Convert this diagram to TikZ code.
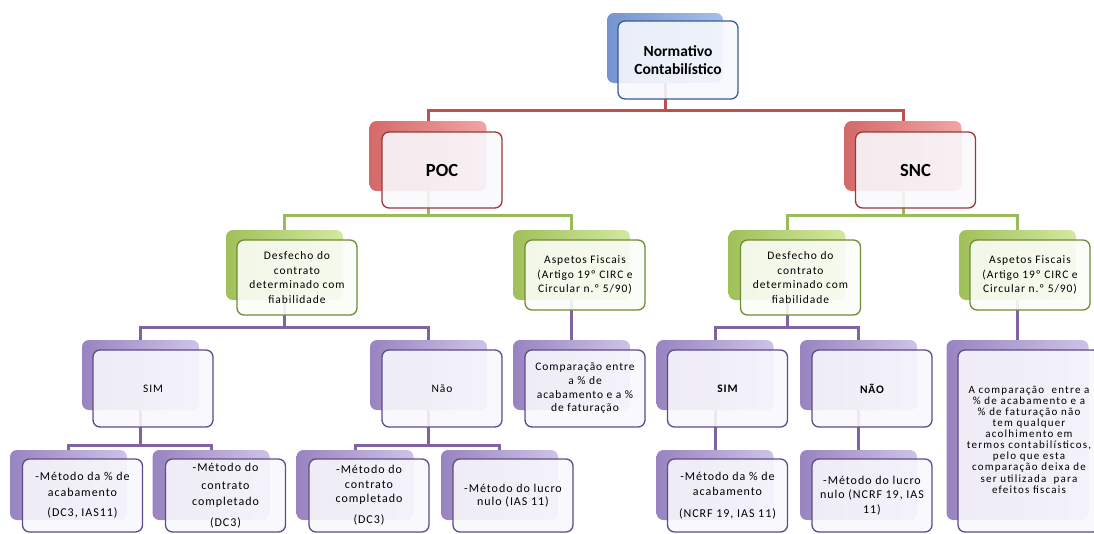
\documentclass[tikz,border=0pt]{standalone}
\usepackage{fontspec}
\setmainfont{Carlito}
\newfontfamily\boxfont{Carlito}[LetterSpace=8]
\newfontfamily\bigfont{Carlito}[LetterSpace=11]
\definecolor{blueL}{RGB}{118,148,208}
\definecolor{blueR}{RGB}{165,190,235}
\definecolor{blueD}{RGB}{60,90,150}
\definecolor{redL}{RGB}{212,105,105}
\definecolor{redR}{RGB}{240,165,165}
\definecolor{redD}{RGB}{155,55,55}
\definecolor{redC}{RGB}{192,80,77}
\definecolor{greenL}{RGB}{160,192,90}
\definecolor{greenR}{RGB}{210,232,160}
\definecolor{greenD}{RGB}{110,140,50}
\definecolor{greenC}{RGB}{155,187,89}
\definecolor{purL}{RGB}{152,132,192}
\definecolor{purR}{RGB}{205,195,232}
\definecolor{purD}{RGB}{95,75,140}
\definecolor{purC}{RGB}{128,100,162}
\pgfdeclarelayer{bg}
\pgfsetlayers{bg,main}
\begin{document}
\begin{tikzpicture}[x=1pt,y=-1pt,
  back/.style={rounded corners=7pt, inner sep=0pt, minimum width=117pt, minimum height=70pt},
  front/.style={rounded corners=7pt, inner sep=2pt, line width=1.3pt, fill opacity=0.9, text opacity=1,
    align=center, minimum width=120pt, minimum height=77pt, font=\boxfont\fontsize{11.5}{14.5}\selectfont},
  bB/.style={back, left color=blueL, right color=blueR},
  fB/.style={front, draw=blueD, fill=blueR!10!white},
  bR/.style={back, left color=redL, right color=redR},
  fR/.style={front, draw=redD, fill=purR!12!white},
  bG/.style={back, left color=greenL, right color=greenR},
  fG/.style={front, draw=greenD, fill=greenR!8!white},
  bP/.style={back, left color=purL, right color=purR},
  fP/.style={front, draw=purD, fill=purR!14!white},
  botfont/.style={font=\boxfont\fontsize{12}{16}\selectfont},
  con/.style={line width=3pt},
  conR/.style={con, draw=redC},
  conG/.style={con, draw=greenC},
  conP/.style={con, draw=purC},
]
\useasboundingbox (0,0) rectangle (1094,533);

% level 0
\node[bB, minimum width=116pt] (bTop) at (665,48) {};
\node[fB, minimum height=78pt, font=\bfseries\fontsize{15.5}{18}\selectfont] (top) at (678,60) {Normativo\\Contabilístico};

% level 1
\node[bR] (bPOC) at (428,156) {};
\node[fR, minimum height=76pt, font=\bfseries\fontsize{18.5}{20}\selectfont] (POC) at (442,170) {POC};
\node[bR] (bSNC) at (903,156) {};
\node[fR, minimum height=76pt, font=\bfseries\fontsize{18.5}{20}\selectfont] (SNC) at (915.5,170) {SNC};

% level 2
\node[bG] (bDesL) at (284.5,265) {};
\node[fG, minimum height=75pt] (DesL) at (297,277.5) {Desfecho do\\contrato\\determinado com\\fiabilidade};
\node[bG] (bAspL) at (571.5,265) {};
\node[fG, minimum height=70pt] (AspL) at (585,275) {Aspetos Fiscais\\(Artigo 19º CIRC e\\Circular n.º 5/90)};
\node[bG] (bDesR) at (787,265) {};
\node[fG, minimum height=75pt] (DesR) at (800.5,277.5) {Desfecho do\\contrato\\determinado com\\fiabilidade};
\node[bG] (bAspR) at (1017.5,265) {};
\node[fG, minimum height=70pt] (AspR) at (1030,275) {Aspetos Fiscais\\(Artigo 19º CIRC e\\Circular n.º 5/90)};

% level 3
\node[bP] (bSimL) at (140.5,375) {};
\node[fP] (SimL) at (153,388.5) {SIM};
\node[bP] (bNaoL) at (428.5,375) {};
\node[fP] (NaoL) at (442,388.5) {Não};
\node[bP] (bCompL) at (571.5,375) {};
\node[fP, font=\boxfont\fontsize{11.5}{13.7}\selectfont] (CompL) at (585,388.5) {Comparação entre\\a \% de\\acabamento e a \%\\de faturação};
\node[bP] (bSimR) at (715,375) {};
\node[fP, font=\boxfont\bfseries\fontsize{11.5}{14.5}\selectfont] (SimR) at (727.5,388.5) {SIM};
\node[bP] (bNaoR) at (858.5,375) {};
\node[fP, font=\boxfont\bfseries\fontsize{11.5}{14.5}\selectfont] (NaoR) at (872,388.5) {NÃO};
\node[bP, minimum width=142pt, minimum height=180pt] (bBig) at (1017.5,430) {};
\node[fP, minimum width=142pt, minimum height=182pt, font=\bigfont\fontsize{11}{11.1}\selectfont] (Big) at (1029,441)
  {\raisebox{9pt}{\begin{tabular}{@{}c@{}}A comparação~ entre a\\\% de acabamento e a\\\% de faturação não\\tem qualquer\\acolhimento em\\termos contabilísticos,\\pelo que esta\\comparação deixa de\\ser utilizada~ para\\efeitos fiscais\end{tabular}}};

% level 4
\node[bP] (bM1) at (68.5,485) {};
\node[fP, botfont, minimum height=73pt] (M1) at (82.5,495.5) {-Método da \% de\\acabamento\\[4pt](DC3, IAS11)};
\node[bP] (bM2) at (211,485) {};
\node[fP, botfont, minimum height=73pt] (M2) at (225.5,495.5) {-Método do\\[2pt]contrato\\completado\\[5pt](DC3)};
\node[bP] (bM3) at (355,485) {};
\node[fP, botfont, minimum height=73pt] (M3) at (369,495.5) {-Método do\\[-1pt]contrato\\[-2pt]completado\\[5pt](DC3)};
\node[bP] (bM4) at (499.5,485) {};
\node[fP, botfont, minimum height=73pt, font=\boxfont\fontsize{12}{13.5}\selectfont] (M4) at (513,495.5) {-Método do lucro\\nulo (IAS 11)};
\node[bP] (bM5) at (715,485) {};
\node[fP, botfont, minimum height=73pt] (M5) at (727.5,495.5) {-Método da \% de\\[-1pt]acabamento\\[6pt](NCRF 19, IAS 11)};
\node[bP] (bM6) at (858.5,485) {};
\node[fP, botfont, minimum height=73pt, font=\boxfont\fontsize{12}{14.5}\selectfont] (M6) at (872,495.5) {-Método do lucro\\nulo (NCRF 19, IAS\\11)};

\begin{pgfonlayer}{bg}
\draw[conR] (bTop.south) -- ++(0,27) coordinate (jTop) -| (bPOC.north);
\draw[conR] (jTop) -| (bSNC.north);
\draw[conG] (bPOC.south) -- ++(0,24) coordinate (jPOC) -| (bDesL.north);
\draw[conG] (jPOC) -| (bAspL.north);
\draw[conG] (bSNC.south) -- ++(0,24) coordinate (jSNC) -| (bDesR.north);
\draw[conG] (jSNC) -| (bAspR.north);
\draw[conP] (bDesL.south) -- ++(0,27) coordinate (jDesL) -| (bSimL.north);
\draw[conP] (jDesL) -| (bNaoL.north);
\draw[conP] (bAspL.south) -- (bCompL.north);
\draw[conP] (bDesR.south) -- ++(0,27) coordinate (jDesR) -| (bSimR.north);
\draw[conP] (jDesR) -| (bNaoR.north);
\draw[conP] (bAspR.south) -- (bBig.north);
\draw[conP] (bSimL.south) -- ++(0,35) coordinate (jSimL) -| (bM1.north);
\draw[conP] (jSimL) -| (bM2.north);
\draw[conP] (bNaoL.south) -- ++(0,35) coordinate (jNaoL) -| (bM3.north);
\draw[conP] (jNaoL) -| (bM4.north);
\draw[conP] (bSimR.south) -- (bM5.north);
\draw[conP] (bNaoR.south) -- (bM6.north);
\end{pgfonlayer}
\end{tikzpicture}
\end{document}
